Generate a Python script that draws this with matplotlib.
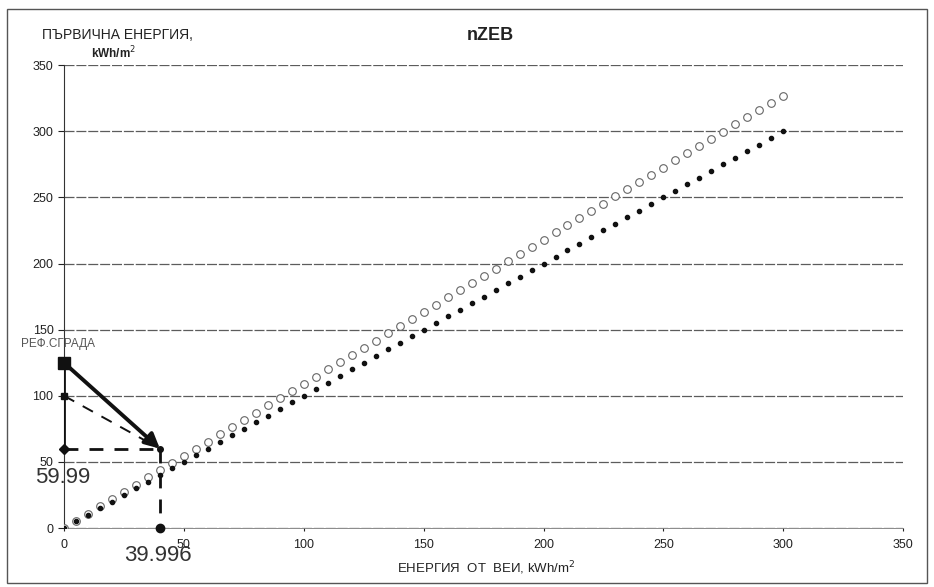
import matplotlib.pyplot as plt
from matplotlib.patches import Rectangle

plt.rcParams['font.family'] = ['Liberation Sans', 'DejaVu Sans']

# RES energy (x) for both series, kWh/m2
res_x = [0, 5, 10, 15, 20, 25, 30, 35, 40, 45, 50, 55, 60, 65, 70, 75, 80, 85, 90, 95,
         100, 105, 110, 115, 120, 125, 130, 135, 140, 145, 150, 155, 160, 165, 170, 175,
         180, 185, 190, 195, 200, 205, 210, 215, 220, 225, 230, 235, 240, 245, 250, 255,
         260, 265, 270, 275, 280, 285, 290, 295, 300]
# filled dots
primary_dots = [0, 5, 10, 15, 20, 25, 30, 35, 40, 45, 50, 55, 60, 65, 70, 75, 80, 85, 90, 95,
                100, 105, 110, 115, 120, 125, 130, 135, 140, 145, 150, 155, 160, 165, 170, 175,
                180, 185, 190, 195, 200, 205, 210, 215, 220, 225, 230, 235, 240, 245, 250, 255,
                260, 265, 270, 275, 280, 285, 290, 295, 300]
# open circles
primary_circles = [0, 5.5, 10.9, 16.4, 21.8, 27.3, 32.7, 38.2, 43.6, 49.1, 54.5, 60.0, 65.4,
                   70.9, 76.3, 81.8, 87.2, 92.7, 98.1, 103.6, 109.0, 114.5, 119.9, 125.4, 130.8,
                   136.3, 141.7, 147.2, 152.6, 158.1, 163.5, 169.0, 174.4, 179.9, 185.3, 190.8,
                   196.2, 201.7, 207.1, 212.6, 218.0, 223.5, 228.9, 234.4, 239.8, 245.3, 250.7,
                   256.2, 261.6, 267.1, 272.5, 278.0, 283.4, 288.9, 294.3, 299.8, 305.2, 310.7,
                   316.1, 321.6, 327.0]

ref_x, ref_y = 0, 125          # reference building
mid_y = 100
target_x, target_y = 39.996, 59.99

fig = plt.figure(figsize=(9.34, 5.87), dpi=100)
ax = fig.add_axes([0.0685, 0.1005, 0.8985, 0.7885])

# outer chart border
fig.patches.append(Rectangle((0.008, 0.007), 0.985, 0.977, transform=fig.transFigure,
                             fill=False, edgecolor='#555555', linewidth=1.0))

ax.set_xlim(0, 350)
ax.set_ylim(0, 350)
ax.set_xticks(range(0, 351, 50))
ax.set_yticks(range(0, 351, 50))
ax.yaxis.grid(True, color='#333333', linewidth=0.9, linestyle=(0, (8, 1.5)), alpha=0.8)
ax.set_axisbelow(True)
for s in ['top', 'right']:
    ax.spines[s].set_visible(False)
ax.spines['left'].set_color('#333333')
ax.spines['bottom'].set_color('#777777')
ax.spines['bottom'].set_linewidth(0.6)
ax.tick_params(axis='both', labelsize=9, colors='#222222', length=4, width=0.8)
ax.tick_params(axis='x', length=2, pad=6)

ax.plot(res_x, primary_circles, linestyle='none', marker='o', markersize=5.5,
        markerfacecolor='white', markeredgecolor='#666666', markeredgewidth=0.8, zorder=3)
ax.plot(res_x, primary_dots, linestyle='none', marker='o', markersize=3,
        color='#111111', zorder=4)

# construction lines
ax.plot([ref_x, ref_x], [ref_y, target_y], color='#111111', linewidth=2.0, zorder=5)
ax.plot([ref_x, target_x], [mid_y, target_y], color='#111111', linewidth=1.4,
        linestyle=(0, (6, 5)), zorder=5)
ax.plot([ref_x, target_x], [target_y, target_y], color='#111111', linewidth=2.0,
        linestyle=(0, (5, 4)), zorder=5)
ax.plot([target_x, target_x], [target_y, 0], color='#111111', linewidth=2.0,
        linestyle=(0, (5, 4)), zorder=5)
ax.annotate('', xy=(target_x, target_y), xytext=(ref_x, ref_y),
            arrowprops=dict(arrowstyle='-|>', color='#111111', lw=2.8,
                            mutation_scale=22, shrinkA=0, shrinkB=0), zorder=6)
ax.plot([ref_x], [ref_y], marker='s', markersize=8, color='#111111', clip_on=False, zorder=7)
ax.plot([ref_x], [mid_y], marker='s', markersize=5, color='#111111', clip_on=False, zorder=7)
ax.plot([ref_x], [target_y], marker='D', markersize=5, color='#111111', clip_on=False, zorder=7)
ax.plot([target_x], [0], marker='o', markersize=6, color='#111111', clip_on=False, zorder=7)
ax.plot([target_x], [target_y], marker='o', markersize=4, color='#111111', zorder=7)

ax.text(-18, 139, 'РЕФ.СГРАДА', fontsize=8.5, color='#555555', va='center', ha='left',
        clip_on=False)
ax.text(-12, 38.5, '59.99', fontsize=16, color='#333333', va='center', ha='left',
        clip_on=False)
ax.text(25, -20.5, '39.996', fontsize=16, color='#333333', va='center', ha='left',
        clip_on=False)

fig.text(0.525, 0.94, 'nZEB', fontsize=13, fontweight='bold', color='#222222',
         ha='center', va='center')
fig.text(0.045, 0.94, 'ПЪРВИЧНА ЕНЕРГИЯ,', fontsize=10, color='#222222',
         ha='left', va='center')
fig.text(0.097, 0.909, 'kWh/m$^2$', fontsize=8.5, color='#222222', fontweight='bold',
         ha='left', va='center')
fig.text(0.52, 0.032, 'ЕНЕРГИЯ  ОТ  ВЕИ, kWh/m$^2$', fontsize=9.5, color='#222222',
         ha='center', va='center')

fig.savefig('out.png', dpi=100)
